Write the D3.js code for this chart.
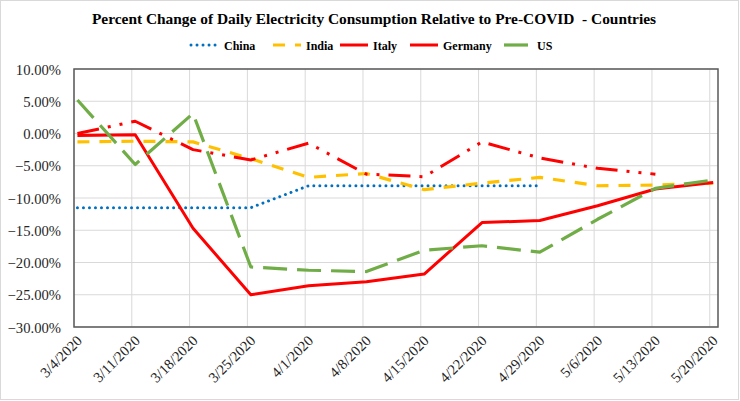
<!DOCTYPE html>
<html>
<head>
<meta charset="utf-8">
<script src="https://cdn.jsdelivr.net/npm/d3@7/dist/d3.min.js"></script>
<style>
  html, body { margin: 0; padding: 0; background: #fff; }
  svg { display: block; }
  text { font-family: "Liberation Serif", "Times New Roman", serif; }
</style>
</head>
<body>
<svg id="chart" width="740" height="401"></svg>
<script>
// ---- Data ----
const categories = ["3/4/2020","3/11/2020","3/18/2020","3/25/2020","4/1/2020","4/8/2020",
                    "4/15/2020","4/22/2020","4/29/2020","5/6/2020","5/13/2020","5/20/2020"];
const china   = [-11.5, -11.5, -11.5, -11.5, -8.1, -8.1, -8.1, -8.1, -8.1, null, null, null];
const india   = [-1.3, -1.2, -1.3, -3.9, -6.8, -6.2, -8.7, -7.7, -6.8, -8.1, -8.0, -7.7];
const italy   = [-0.3, -0.2, -14.7, -25.0, -23.6, -23.0, -21.8, -13.8, -13.5, -11.2, -8.6, -7.6];
const germany = [0.0, 1.9, -2.5, -4.1, -1.5, -6.3, -6.7, -1.3, -3.8, -5.4, -6.3, null];
const us      = [5.2, -4.8, 3.1, -20.7, -21.2, -21.4, -18.1, -17.4, -18.4, -13.3, -8.5, -7.2];
const yTicks  = [10, 5, 0, -5, -10, -15, -20, -25, -30];
const seriesNames = ["China", "India", "Italy", "Germany", "US"];
const title = "Percent Change of Daily Electricity Consumption Relative to Pre-COVID  - Countries";

// ---- Styles ----
const styles = {
  China:   { color: "#0070C0", width: 3,   dash: "0.01,6", cap: "round" },
  India:   { color: "#FFC000", width: 3.2, dash: "12,10",  cap: "butt" },
  Italy:   { color: "#FF0000", width: 3,   dash: null,     cap: "butt" },
  Germany: { color: "#FF0000", width: 3,   dash: "22,9,3,9,3,9", cap: "butt" },
  US:      { color: "#70AD47", width: 3.2, dash: "24,10",  cap: "butt" }
};
const seriesData = { China: china, India: india, Italy: italy, Germany: germany, US: us };

const svg = d3.select("#chart");
const parse = d3.timeParse("%m/%d/%Y");
const dates = categories.map(parse);

const plot = { left: 74, right: 718, top: 69, bottom: 327 };
const x = d3.scaleTime()
  .domain([dates[0], d3.timeDay.offset(dates[dates.length - 1], 1)])
  .range([plot.left, plot.right]);
const y = d3.scaleLinear().domain([-30, 10]).range([plot.bottom, plot.top]);
const pointShift = x(d3.timeHour.offset(dates[0], 10)) - x(dates[0]);

// outer frame
svg.append("rect").attr("x", 0.5).attr("y", 0.5).attr("width", 738).attr("height", 399)
  .attr("fill", "#fff").attr("stroke", "#d9d9d9").attr("stroke-width", 1);

// gridlines
svg.append("g")
  .selectAll("line.h").data(yTicks).join("line")
  .attr("x1", plot.left).attr("x2", plot.right)
  .attr("y1", d => y(d)).attr("y2", d => y(d))
  .attr("stroke", "#d9d9d9").attr("stroke-width", 1);
svg.append("g")
  .selectAll("line.v").data(dates).join("line")
  .attr("x1", d => x(d)).attr("x2", d => x(d))
  .attr("y1", plot.top).attr("y2", plot.bottom)
  .attr("stroke", "#d9d9d9").attr("stroke-width", 1);

// y axis labels
const yAxis = d3.axisLeft(y).tickValues(yTicks).tickSize(0).tickPadding(13)
  .tickFormat(d => d3.format(".2f")(d) + "%");
const yg = svg.append("g").attr("transform", `translate(${plot.left},0)`).call(yAxis);
yg.attr("font-family", null);
yg.select(".domain").remove();
yg.selectAll("text").attr("font-family", "Liberation Serif").attr("font-size", "14.67px")
  .attr("fill", "#262626").attr("dy", "0.34em");

// x axis labels
const xAxis = d3.axisBottom(x).tickValues(dates).tickSize(0)
  .tickFormat(d => (d.getMonth() + 1) + "/" + d.getDate() + "/" + d.getFullYear());
const xg = svg.append("g").attr("transform", `translate(0,${plot.bottom})`).call(xAxis);
xg.attr("font-family", null);
xg.select(".domain").remove();
xg.selectAll("text")
  .attr("font-family", "Liberation Serif").attr("font-size", "14.67px").attr("fill", "#262626")
  .attr("text-anchor", "end").attr("dy", null).attr("y", 0)
  .attr("dominant-baseline", "central")
  .attr("transform", "translate(5,11) rotate(-45)");

// lines
const line = d3.line()
  .defined(d => d.v !== null)
  .x(d => x(d.date) + pointShift)
  .y(d => y(d.v));
seriesNames.forEach(name => {
  const s = styles[name];
  const pts = dates.map((date, i) => ({ date, v: seriesData[name][i] }));
  svg.append("path").datum(pts)
    .attr("d", line)
    .attr("fill", "none")
    .attr("stroke", s.color)
    .attr("stroke-width", s.width)
    .attr("stroke-linecap", s.cap)
    .attr("stroke-linejoin", "round")
    .attr("stroke-dasharray", s.dash);
});

// plot border
svg.append("rect").attr("x", plot.left).attr("y", plot.top)
  .attr("width", plot.right - plot.left).attr("height", plot.bottom - plot.top)
  .attr("fill", "none").attr("stroke", "#595959").attr("stroke-width", 1.5);

// title
svg.append("text").attr("x", 374).attr("y", 24).attr("text-anchor", "middle")
  .attr("font-size", "15.4px").attr("font-weight", "bold").attr("fill", "#000")
  .style("white-space", "pre")
  .text(title);

// legend
const legendX = [191, 273, 340, 410, 504];
const lg = svg.append("g");
seriesNames.forEach((name, i) => {
  const s = styles[name];
  const gx = legendX[i];
  lg.append("line").attr("x1", gx).attr("x2", gx + 28).attr("y1", 45).attr("y2", 45)
    .attr("stroke", s.color).attr("stroke-width", s.width)
    .attr("stroke-linecap", s.cap)
    .attr("stroke-dasharray", name === "Germany" ? null : s.dash);
  lg.append("text").attr("x", gx + 33).attr("y", 49.5)
    .attr("font-size", "12px").attr("font-weight", "bold").attr("fill", "#000")
    .text(name);
});
</script>
</body>
</html>
